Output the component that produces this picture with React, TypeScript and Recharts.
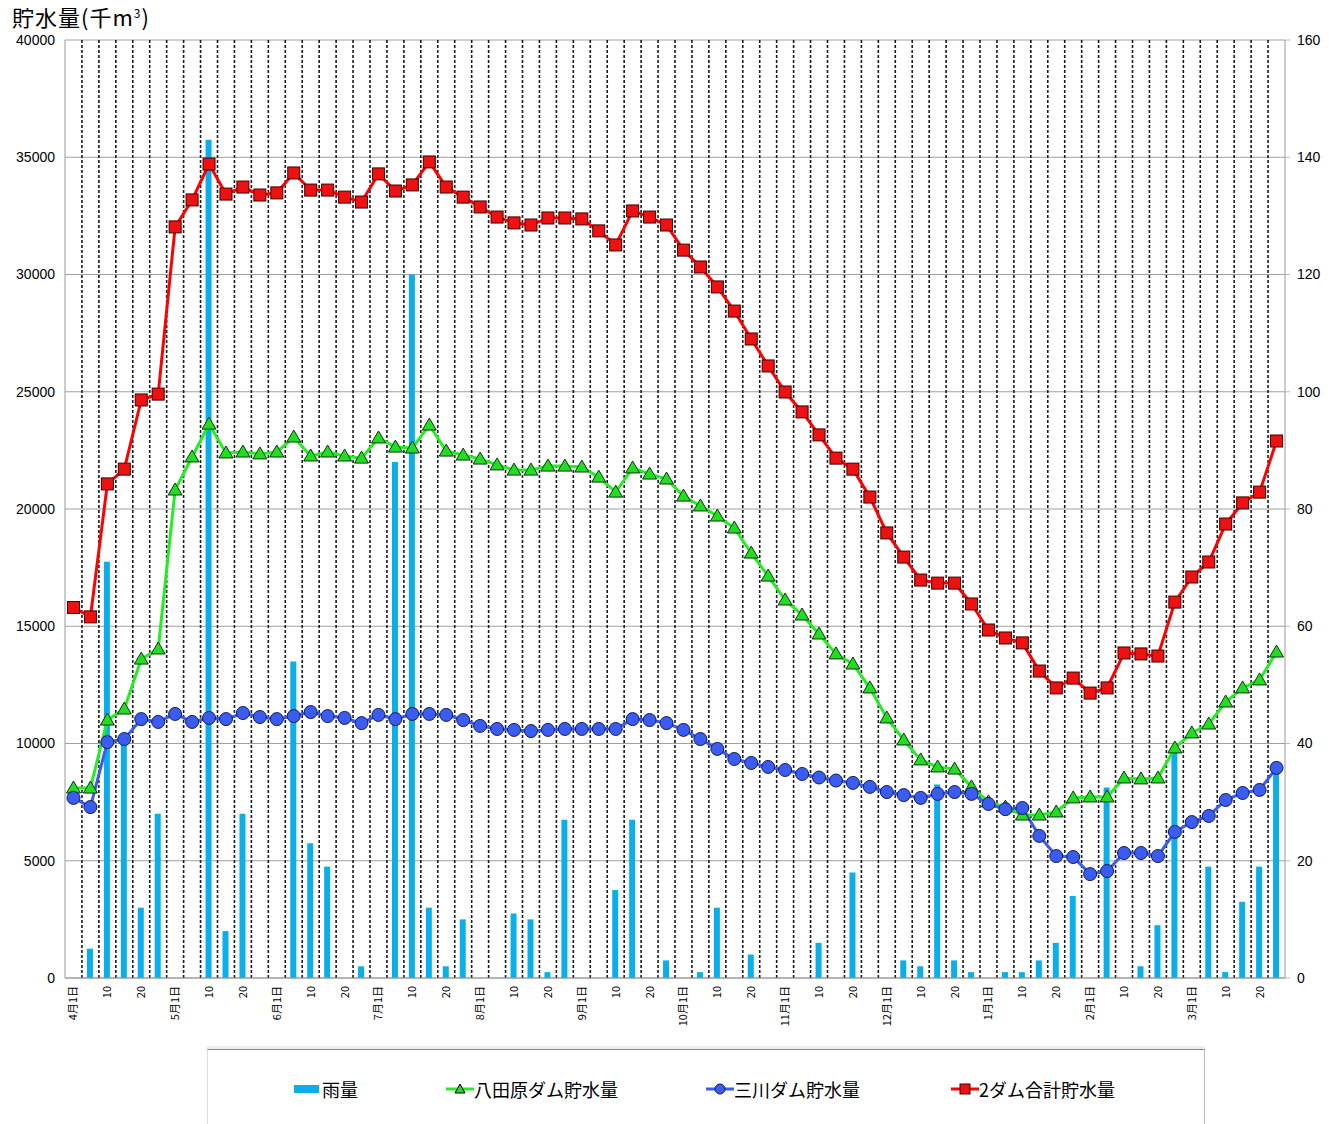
import React from 'react';
import {
  ComposedChart, Bar, Line, XAxis, YAxis, CartesianGrid,
} from 'recharts';

// 4月〜翌3月, 各月 1,5,10,15,20,25日
const MONTHS = [4, 5, 6, 7, 8, 9, 10, 11, 12, 1, 2, 3];
const DAYS = [1, 5, 10, 15, 20, 25];

// 雨量 (mm, 右軸)
const RAIN = [
  0, 5, 71, 40.5, 12, 28,
  0, 0, 143, 8, 28, 0,
  0, 54, 23, 19, 0, 2,
  0, 88, 120, 12, 2, 10,
  0, 0, 11, 10, 1, 27,
  0, 0, 15, 27, 0, 3,
  0, 1, 12, 0, 4, 0,
  0, 0, 6, 0, 18, 0,
  0, 3, 2, 33, 3, 1,
  0, 1, 1, 3, 6, 14,
  0, 32.5, 0, 2, 9, 39,
  0, 19, 1, 13, 19, 36,
];

// 八田原ダム貯水量 (千m3)
const HATTABARA = [
  8.1, 8.1, 11.0, 11.47, 13.6, 14.03,
  20.81, 22.22, 23.62, 22.39, 22.43, 22.35,
  22.43, 23.07, 22.26, 22.43, 22.26, 22.17,
  23.03, 22.64, 22.6, 23.58, 22.47, 22.3,
  22.13, 21.88, 21.66, 21.66, 21.83, 21.83,
  21.79, 21.36, 20.72, 21.75, 21.49, 21.28,
  20.55, 20.13, 19.7, 19.19, 18.12, 17.14,
  16.12, 15.48, 14.67, 13.82, 13.39, 12.37,
  11.09, 10.15, 9.3, 9.0, 8.91, 8.15,
  7.51, 7.29, 6.95, 6.95, 7.08, 7.68,
  7.72, 7.72, 8.53, 8.49, 8.53, 9.81,
  10.45, 10.83, 11.77, 12.37, 12.71, 13.9,
];

// 三川ダム貯水量 (千m3)
const MIKAWA = [
  7.68, 7.29, 10.06, 10.19, 11.04, 10.92,
  11.26, 10.92, 11.09, 11.04, 11.3, 11.13,
  11.04, 11.17, 11.34, 11.17, 11.09, 10.87,
  11.22, 11.04, 11.26, 11.26, 11.22, 11.0,
  10.75, 10.62, 10.58, 10.53, 10.58, 10.62,
  10.62, 10.62, 10.62, 11.04, 11.0, 10.87,
  10.58, 10.19, 9.77, 9.34, 9.17, 9.0,
  8.87, 8.7, 8.55, 8.42, 8.32, 8.15,
  7.93, 7.8, 7.68, 7.85, 7.93, 7.85,
  7.42, 7.2, 7.25, 6.06, 5.2, 5.16,
  4.43, 4.56, 5.33, 5.33, 5.2, 6.23,
  6.65, 6.91, 7.59, 7.89, 8.02, 8.96,
];

// 2ダム合計貯水量 (千m3)
const TOTAL = [
  15.8, 15.4, 21.07, 21.7, 24.65, 24.9,
  32.03, 33.18, 34.71, 33.43, 33.73, 33.39,
  33.48, 34.33, 33.6, 33.6, 33.3, 33.09,
  34.29, 33.56, 33.82, 34.8, 33.73, 33.3,
  32.88, 32.45, 32.2, 32.11, 32.41, 32.41,
  32.37, 31.86, 31.26, 32.71, 32.45, 32.11,
  31.04, 30.32, 29.47, 28.44, 27.25, 26.1,
  24.99, 24.14, 23.16, 22.17, 21.7, 20.51,
  18.98, 17.95, 16.97, 16.84, 16.84, 15.95,
  14.84, 14.5, 14.29, 13.09, 12.37, 12.79,
  12.15, 12.37, 13.86, 13.82, 13.73, 16.03,
  17.1, 17.74, 19.36, 20.26, 20.72, 22.9,
];

const LEFT_TICKS = [0, 5000, 10000, 15000, 20000, 25000, 30000, 35000, 40000];
const RIGHT_TICKS = [0, 20, 40, 60, 80, 100, 120, 140, 160];

const N = MONTHS.length * DAYS.length;
const data = Array.from({ length: N }, (_, i) => {
  const m = MONTHS[Math.floor(i / DAYS.length)];
  const d = DAYS[i % DAYS.length];
  return {
    date: `${m}/${d}`,
    label: d === 1 ? `${m}月1日` : d === 10 || d === 20 ? String(d) : '',
    rain: RAIN[i] || null,
    hattabara: HATTABARA[i] * 1000,
    mikawa: MIKAWA[i] * 1000,
    total: TOTAL[i] * 1000,
  };
});

const JP = '"Noto Sans CJK JP", "Noto Sans", sans-serif';
const NUM = '"Liberation Sans", Arial, sans-serif';

const XTick = (props: any) => {
  const { x, y, index } = props;
  const label = data[index]?.label;
  if (!label) return null;
  return (
    <text
      x={0}
      y={0}
      transform={`translate(${x + 4},${y}) rotate(-90)`}
      textAnchor="end"
      fontSize={11}
      fontFamily={JP}
      fill="#000"
    >
      {label}
    </text>
  );
};

const TriangleDot = (props: any) => {
  const { cx, cy } = props;
  if (cx == null || cy == null) return null;
  return (
    <polygon
      points={`${cx},${cy - 7} ${cx - 7},${cy + 5} ${cx + 7},${cy + 5}`}
      fill="#22dd22"
      stroke="#0a3a0a"
      strokeWidth={1}
    />
  );
};

const SquareDot = (props: any) => {
  const { cx, cy } = props;
  if (cx == null || cy == null) return null;
  return <rect x={cx - 6} y={cy - 6} width={12} height={12} fill="#ee1111" stroke="#400" strokeWidth={1} />;
};

const CircleDot = (props: any) => {
  const { cx, cy } = props;
  if (cx == null || cy == null) return null;
  return <circle cx={cx} cy={cy} r={6.5} fill="#3b5cf0" stroke="#101c5a" strokeWidth={1} />;
};

// band boundaries between the 72 categories
const bandLines = ({ offset }: any) => {
  const out: number[] = [];
  for (let k = 1; k < N; k++) out.push(offset.left + (offset.width * k) / N);
  return out;
};

const LegendItem = ({ left, color, kind, text }: any) => (
  <div style={{ position: 'absolute', left, top: 26, display: 'flex', alignItems: 'center', height: 26 }}>
    <svg width={30} height={16}>
      {kind === 'bar' ? (
        <rect x={0} y={4} width={25} height={8} fill={color} />
      ) : (
        <line x1={0} x2={28} y1={8} y2={8} stroke={color} strokeWidth={3} />
      )}
      {kind === 'tri' && <polygon points="14,3 9,12 19,12" fill="#22dd22" stroke="#000" strokeWidth={1} />}
      {kind === 'circle' && <circle cx={14} cy={8} r={5} fill="#3b5cf0" stroke="#101c5a" strokeWidth={1} />}
      {kind === 'square' && <rect x={9} y={3} width={10} height={10} fill="#ee1111" stroke="#400" strokeWidth={1} />}
    </svg>
    <span style={{ fontFamily: JP, fontSize: 18, color: '#000', marginLeft: -2 }}>{text}</span>
  </div>
);

const App: React.FC = () => (
  <div style={{ position: 'relative', width: 1324, height: 1116, background: '#fff' }}>
    <div style={{ position: 'absolute', left: 4, top: -8, fontFamily: JP, fontSize: 22, color: '#000', letterSpacing: 1 }}>
      貯水量(千m<sup style={{ fontSize: 12 }}>3</sup>)
    </div>
    <ComposedChart
      width={1324}
      height={1040}
      data={data}
      margin={{ top: 32, right: 0, bottom: 10, left: 0 }}
      barCategoryGap={0}
    >
      <CartesianGrid yAxisId="left" vertical={false} stroke="#a0a0a0" />
      <CartesianGrid
        yAxisId="left"
        horizontal={false}
        stroke="#1a1a1a"
        strokeWidth={1.6}
        strokeDasharray="3 2"
        verticalCoordinatesGenerator={bandLines}
      />
      <XAxis
        dataKey="date"
        interval={0}
        tick={<XTick />}
        tickLine={false}
        axisLine={{ stroke: '#999' }}
        height={60}
      />
      <YAxis
        yAxisId="left"
        domain={[0, 40000]}
        ticks={LEFT_TICKS}
        tickLine={false}
        axisLine={{ stroke: '#999' }}
        tickMargin={4}
        width={57}
        tick={{ fontSize: 14, fill: '#000', fontFamily: NUM }}
      />
      <YAxis
        yAxisId="right"
        orientation="right"
        domain={[0, 160]}
        ticks={RIGHT_TICKS}
        tickSize={5}
        tickLine={{ stroke: '#bbb' }}
        axisLine={{ stroke: '#999' }}
        tickMargin={7}
        width={47}
        tick={{ fontSize: 14, fill: '#000', fontFamily: NUM }}
      />
      <Bar yAxisId="right" dataKey="rain" fill="#0aaeea" barSize={6} isAnimationActive={false} />
      <Line
        yAxisId="left"
        dataKey="hattabara"
        stroke="#22ee22"
        strokeWidth={3}
        dot={<TriangleDot />}
        isAnimationActive={false}
      />
      <Line
        yAxisId="left"
        dataKey="mikawa"
        stroke="#3b5cf0"
        strokeWidth={3}
        dot={<CircleDot />}
        isAnimationActive={false}
      />
      <Line
        yAxisId="left"
        dataKey="total"
        stroke="#ff0000"
        strokeWidth={3}
        dot={<SquareDot />}
        isAnimationActive={false}
      />
    </ComposedChart>
    <div
      style={{
        position: 'absolute',
        left: 199,
        top: 1041,
        width: 996,
        height: 90,
        borderTop: '1px solid #888',
        borderLeft: '1px solid #ddd',
        borderRight: '1px solid #bbb',
        boxShadow: '0 -3px 0 #eee',
      }}
    >
      <LegendItem left={86} color="#0aaeea" kind="bar" text="雨量" />
      <LegendItem left={238} color="#22ee22" kind="tri" text="八田原ダム貯水量" />
      <LegendItem left={498} color="#3b5cf0" kind="circle" text="三川ダム貯水量" />
      <LegendItem left={743} color="#ff0000" kind="square" text="2ダム合計貯水量" />
    </div>
  </div>
);

export default App;
